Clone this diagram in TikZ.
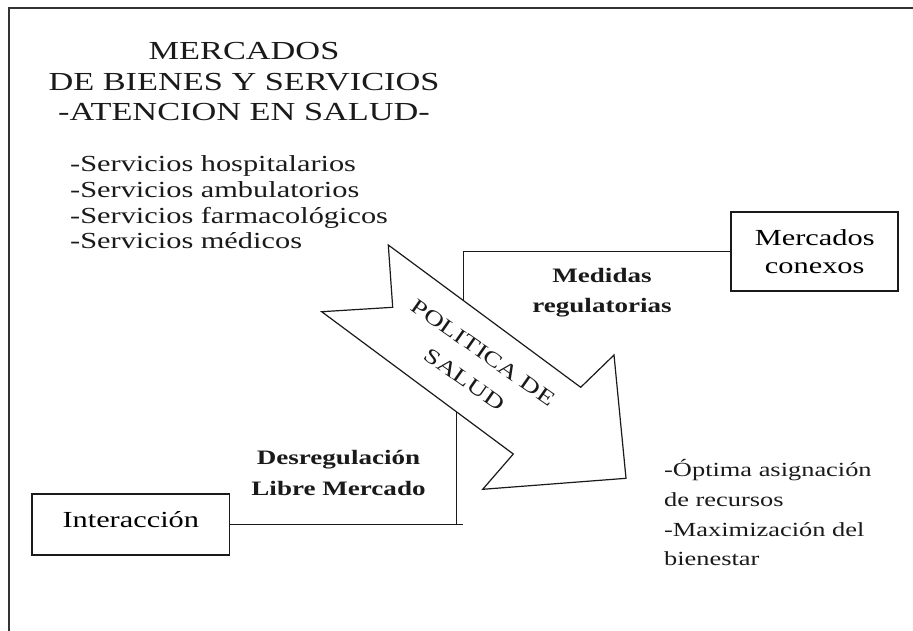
\documentclass[tikz,border=0pt]{standalone}
\usepackage{fontspec}
\setmainfont{Liberation Serif}[FakeStretch=1.32]
\definecolor{diag-line}{HTML}{1A1A1A}
\definecolor{diag-frame}{HTML}{333333}

\begin{document}
\begin{tikzpicture}[x=1pt, y=-1pt,
    caja/.style={draw=diag-line, line width=1.8pt, inner sep=0pt, align=center, font=\fontsize{23}{28}\selectfont},
    conector/.style={draw=diag-line, line width=1.3pt},
    texto/.style={inner sep=0pt, text=diag-line}]

    % Marco exterior (solo se ven los bordes superior e izquierdo)
    \useasboundingbox (0,0) rectangle (913,630);
    \draw[diag-frame, line width=2pt] (9.3,640) -- (9.3,8.3) -- (925,8.3);

    % Titulo del mercado
    \node[texto, anchor=north, align=center, font=\fontsize{26}{30.7}\selectfont] (titulo) at (244,42) {MERCADOS\\DE BIENES Y SERVICIOS\\-ATENCION EN SALUD-};

    % Lista de servicios
    \node[texto, anchor=north west, align=left, font=\fontsize{23}{25.8}\selectfont] (servicios) at (70,155.3) {-Servicios hospitalarios\\-Servicios ambulatorios\\-Servicios farmacológicos\\-Servicios médicos};

    % Cajas
    \node[caja, minimum width=167pt, minimum height=79.3pt] (conexos) at (814.7,251.3) {Mercados\\conexos};
    \node[caja, minimum width=197.5pt, minimum height=61.3pt, text height=16pt, text depth=11pt] (interaccion) at (130.8,524.7) {Interacción};

    % Quiebres de los conectores
    \coordinate (medidas_fin) at (463.3,330);
    \coordinate (desreg_fin) at (463.3,524.7);
    \coordinate (desreg_codo) at (456.7,524.7);
    \coordinate (desreg_top) at (456.7,400);

    \draw[conector] (conexos.west) -| (medidas_fin);
    \draw[conector] (interaccion.east) -- (desreg_fin);
    \draw[conector] (desreg_codo) -- (desreg_top);

    % Flecha de la politica (tapa los conectores)
    \draw[diag-line, line width=1.2pt, fill=white, line join=miter]
        (388.3,245) -- (580.7,387.3) -- (614,355) -- (626,478.3) -- (482.7,489.3)
        -- (513.3,454) -- (321.7,311.7) -- (392.7,307.3) -- cycle;
    \node[texto, rotate=-35, align=center, font=\fontsize{21}{33}\selectfont] (politica) at (474,366) {POLITICA DE\\SALUD};

    % Rotulos de los conectores
    \node[texto, anchor=north, align=center, font=\fontsize{20.5}{30}\selectfont\bfseries] (medidas) at (602,267.8) {Medidas\\regulatorias};
    \node[texto, anchor=south, align=center, font=\fontsize{20.5}{31}\selectfont\bfseries] (desreg) at (338.5,496) {Desregulación\\Libre Mercado};

    % Resultados esperados
    \node[texto, anchor=south west, align=left, font=\fontsize{20}{29.6}\selectfont] (resultados) at (664,566) {-Óptima asignación\\de recursos\\-Maximización del\\bienestar};

\end{tikzpicture}
\end{document}
